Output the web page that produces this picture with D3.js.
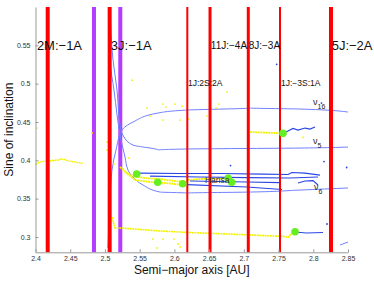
<!DOCTYPE html>
<html>
<head>
<meta charset="utf-8">
<script src="https://cdn.jsdelivr.net/npm/d3@7"></script>
<style>
  body { margin: 0; background: #fff; }
  text { font-family: "Liberation Sans", Arial, sans-serif; }
</style>
</head>
<body>
<script>
// axis ticks
const xTicks = [2.4, 2.45, 2.5, 2.55, 2.6, 2.65, 2.7, 2.75, 2.8, 2.85];
const yTicks = [0.3, 0.35, 0.4, 0.45, 0.5, 0.55];

// mean motion resonances
const resNames = ["2M:−1A", "3J:−1A", "1J:2S:2A", "11J:−4A", "8J:−3A", "1J:−3S:1A", "5J:−2A"];
const resA = [2.4176, 2.5068, 2.6186, 2.6513, 2.7064, 2.7521, 2.8255];
const resLabelA = [2.402, 2.5085, 2.6196, 2.6525, 2.707, 2.7535, 2.8265];
const resKind = ["big", "big", "small", "mid", "mid", "small", "big"];

// the two purple lines
const purpleA = [2.4842, 2.5221];

// secular resonance curves
const nu16A = [2.5044, 2.5073, 2.5102, 2.5159, 2.5246, 2.5404, 2.5764, 2.6196, 2.7089, 2.7809, 2.85];
const nu16S = [0.2856, 0.3482, 0.3873, 0.4134, 0.4395, 0.4499, 0.4617, 0.4656, 0.4682, 0.4669, 0.463];
const nu5A = [2.5073, 2.5116, 2.5174, 2.5217, 2.5274, 2.5404, 2.5764, 2.6153, 2.7809, 2.85];
const nu5S = [0.60, 0.5308, 0.4917, 0.446, 0.4304, 0.4199, 0.4134, 0.4147, 0.416, 0.4173];
const nu6A = [2.5058, 2.5073, 2.513, 2.5232, 2.5289, 2.5332, 2.5404, 2.5548, 2.5793, 2.6182, 2.7089, 2.7809, 2.85];
const nu6S = [0.60, 0.5308, 0.4917, 0.4265, 0.4043, 0.3873, 0.3782, 0.3678, 0.3586, 0.3573, 0.3586, 0.3612, 0.3639];
const cornerA = [2.8385, 2.85];
const cornerS = [0.2895, 0.2934];
const nuNames = ["16", "5", "6"];
const nuA = [2.7996, 2.7996, 2.801];
const nuS = [0.476, 0.425, 0.365];

// yellow tracks
const yLeftA = [2.400, 2.403, 2.406, 2.409, 2.412, 2.415, 2.418, 2.421, 2.424, 2.427, 2.430, 2.433, 2.436, 2.439, 2.442, 2.445, 2.448, 2.451, 2.454, 2.457, 2.460, 2.463, 2.466, 2.468];
const yLeftS = [0.394, 0.396, 0.398, 0.398, 0.399, 0.399, 0.398, 0.399, 0.400, 0.399, 0.401, 0.400, 0.402, 0.401, 0.401, 0.400, 0.399, 0.399, 0.398, 0.398, 0.397, 0.397, 0.396, 0.396];
const y1A = [2.5217, 2.5303, 2.5404, 2.5577, 2.5793, 2.6009, 2.6196];
const y1S = [0.3912, 0.3846, 0.3795, 0.3769, 0.3756, 0.373, 0.3717];
const y2A = [2.5289, 2.5433, 2.5649, 2.5865, 2.6124];
const y2S = [0.3846, 0.3743, 0.3717, 0.3704, 0.3678];
const y3A = [2.6196, 2.6369, 2.6585, 2.6772];
const y3S = [0.3743, 0.3756, 0.3762, 0.3769];
const yLowA = [2.5102, 2.5116, 2.5145, 2.5232, 2.5793, 2.6225, 2.6945, 2.7593, 2.7636, 2.768, 2.7737];
const yLowS = [0.326, 0.322, 0.3117, 0.3117, 0.3078, 0.3058, 0.3032, 0.3006, 0.2993, 0.304, 0.3065];
const yHighA = [2.7089, 2.7564];
const yHighS = [0.4369, 0.4352];
const yDotsA = [2.539, 2.5606, 2.5836, 2.5879, 2.6009, 2.611, 2.5649, 2.5836, 2.6081, 2.6758, 2.6642, 2.6599, 2.647, 2.621, 2.4022, 2.4814, 2.503, 2.503, 2.5346, 2.513, 2.526, 2.5692, 2.5836, 2.5994, 2.575, 2.6052, 2.6081, 2.7852];
const yDotsS = [0.5046, 0.4682, 0.4734, 0.4695, 0.4734, 0.4708, 0.4577, 0.4525, 0.4525, 0.489, 0.4734, 0.4682, 0.4577, 0.4538, 0.4421, 0.4356, 0.4238, 0.4134, 0.403, 0.3952, 0.3886, 0.2973, 0.2973, 0.2973, 0.2856, 0.2908, 0.2869, 0.43];

// dark blue tracks
const b1A = [2.5505, 2.6081, 2.6657, 2.7276, 2.7636, 2.7694, 2.7881, 2.8097];
const b1S = [0.3834, 0.3828, 0.3828, 0.3821, 0.3815, 0.3841, 0.3834, 0.3808];
const b2A = [2.5649, 2.6369, 2.7046, 2.7665, 2.8068];
const b2S = [0.3795, 0.3782, 0.3775, 0.3769, 0.3782];
const b3A = [2.6225, 2.7046, 2.7521];
const b3S = [0.373, 0.3717, 0.371];
const b4A = [2.778, 2.7881, 2.7996, 2.8068];
const b4S = [0.3704, 0.373, 0.3736, 0.3678];
const b5A = [2.6182, 2.7046, 2.755];
const b5S = [0.3684, 0.3652, 0.3619];
const b6A = [2.7607, 2.7708, 2.778, 2.7881, 2.7953, 2.8025];
const b6S = [0.4369, 0.4415, 0.4395, 0.4421, 0.4408, 0.4434];
const b7A = [2.7737, 2.79, 2.814];
const b7S = [0.3065, 0.3052, 0.3058];
const bDotsA = [2.7473, 2.8118, 2.8154, 2.8481, 2.8198, 2.6808];
const bDotsS = [0.5252, 0.4747, 0.3984, 0.3906, 0.3169, 0.3932];

// green markers
const greenA = [2.5457, 2.576, 2.612, 2.6776, 2.6825, 2.7564, 2.7737];
const greenS = [0.3821, 0.3713, 0.3695, 0.3765, 0.3713, 0.4352, 0.3069];

const w = 374, h = 287;
const margin = {top: 7, right: 26, bottom: 34.7, left: 35.5};

let svg = d3.select("body")
    .append("svg")
    .attr("width", w)
    .attr("height", h);

let x = d3.scaleLinear()
    .domain([2.4, 2.85])
    .range([margin.left, w - margin.right]);

let y = d3.scaleLinear()
    .domain([0.28, 0.6])
    .range([h - margin.bottom, margin.top]);

const zip = (a, s) => a.map((d, i) => [d, s[i]]);
const line = d3.line().x(d => x(d[0])).y(d => y(d[1]));

let plot = svg.append("g");

// purple lines
plot.selectAll(".purple")
    .data(purpleA)
    .enter().append("line")
    .attr("x1", d => x(d)).attr("x2", d => x(d))
    .attr("y1", y(0.28)).attr("y2", y(0.6))
    .attr("stroke", "#b23cff")
    .attr("stroke-width", 4);

// secular curves
[[nu16A, nu16S], [nu5A, nu5S], [nu6A, nu6S], [cornerA, cornerS]].forEach(c => {
    plot.append("path")
        .datum(zip(c[0], c[1]))
        .attr("d", line.curve(d3.curveMonotoneY))
        .attr("fill", "none")
        .attr("stroke", "#7080ff")
        .attr("stroke-width", 1);
});
line.curve(d3.curveLinear);

// yellow
[[yLeftA, yLeftS, 1.4], [y1A, y1S, 1.8], [y2A, y2S, 1.8], [y3A, y3S, 1.8], [yLowA, yLowS, 1.6], [yHighA, yHighS, 1.8]].forEach(c => {
    plot.append("path")
        .datum(zip(c[0], c[1]))
        .attr("d", line)
        .attr("fill", "none")
        .attr("stroke", "#f2f200")
        .attr("stroke-dasharray", "2,0.6")
        .attr("stroke-width", c[2]);
});
plot.selectAll(".ydot")
    .data(zip(yDotsA, yDotsS))
    .enter().append("circle")
    .attr("cx", d => x(d[0]))
    .attr("cy", d => y(d[1]))
    .attr("r", 0.9)
    .attr("fill", "#f2f200");

// dark blue
[[b1A, b1S], [b2A, b2S], [b3A, b3S], [b4A, b4S], [b5A, b5S], [b6A, b6S], [b7A, b7S]].forEach(c => {
    plot.append("path")
        .datum(zip(c[0], c[1]))
        .attr("d", line)
        .attr("fill", "none")
        .attr("stroke", "#2a46e6")
        .attr("stroke-width", 1.2);
});
plot.selectAll(".bdot")
    .data(zip(bDotsA, bDotsS))
    .enter().append("circle")
    .attr("cx", d => x(d[0]))
    .attr("cy", d => y(d[1]))
    .attr("r", 0.9)
    .attr("fill", "#2a46e6");

// red resonance lines
const widths = {big: 4, mid: 3, small: 2};
plot.selectAll(".res")
    .data(resA)
    .enter().append("line")
    .attr("x1", d => x(d)).attr("x2", d => x(d))
    .attr("y1", y(0.28)).attr("y2", y(0.6))
    .attr("stroke", "#ff0000")
    .attr("stroke-width", (d, i) => widths[resKind[i]]);

// green markers
plot.selectAll(".green")
    .data(zip(greenA, greenS))
    .enter().append("circle")
    .attr("cx", d => x(d[0]))
    .attr("cy", d => y(d[1]))
    .attr("r", 3.8)
    .attr("fill", "#66ee22");

// labels
const fsize = {big: 13, mid: 10, small: 8.5};
const labelS = {big: 0.55, mid: 0.5505, small: 0.5005};
svg.selectAll(".reslabel")
    .data(resNames)
    .enter().append("text")
    .attr("x", (d, i) => x(resLabelA[i]))
    .attr("y", (d, i) => y(labelS[resKind[i]]))
    .attr("dy", "0.36em")
    .attr("font-size", (d, i) => fsize[resKind[i]])
    .attr("fill", "#111")
    .text(d => d);

svg.append("text")
    .attr("x", x(2.644))
    .attr("y", y(0.3743))
    .attr("dy", "0.36em")
    .attr("font-size", 8.5)
    .attr("fill", "#333")
    .text("Hansa");

let nu = svg.selectAll(".nu")
    .data(nuNames)
    .enter().append("text")
    .attr("x", (d, i) => x(nuA[i]))
    .attr("y", (d, i) => y(nuS[i]))
    .attr("dy", "0.36em")
    .attr("font-size", 9)
    .attr("fill", "#222");
nu.append("tspan").text("ν");
nu.append("tspan").attr("dy", 4).attr("font-size", 7).text(d => d);

// axes
let xAxis = g => g
    .attr("transform", `translate(0,${h - margin.bottom})`)
    .call(d3.axisBottom(x).tickValues(xTicks).tickFormat(d3.format("")).tickSizeInner(-3).tickSizeOuter(0).tickPadding(4))
    .call(g => g.selectAll("text").attr("font-size", 7).attr("fill", "#333"))
    .call(g => g.selectAll("line, path").attr("stroke", "#999"))
    .call(g => g.append("text")
        .attr("x", (margin.left + w - margin.right) / 2)
        .attr("y", 21.5)
        .attr("fill", "#111")
        .attr("font-size", 12)
        .attr("text-anchor", "middle")
        .text("Semi−major axis [AU]"));

let yAxis = g => g
    .attr("transform", `translate(${margin.left},0)`)
    .call(d3.axisLeft(y).tickValues(yTicks).tickFormat(d3.format("")).tickSizeInner(-3).tickSizeOuter(0).tickPadding(5))
    .call(g => g.selectAll("text").attr("font-size", 7).attr("fill", "#333"))
    .call(g => g.selectAll("line, path").attr("stroke", "#999"));

svg.append("g").call(xAxis);
svg.append("g").call(yAxis);

svg.append("text")
    .attr("transform", `translate(13,${(margin.top + h - margin.bottom) / 2}) rotate(-90)`)
    .attr("text-anchor", "middle")
    .attr("font-size", 12)
    .attr("fill", "#111")
    .text("Sine of inclination");
</script>
</body>
</html>
